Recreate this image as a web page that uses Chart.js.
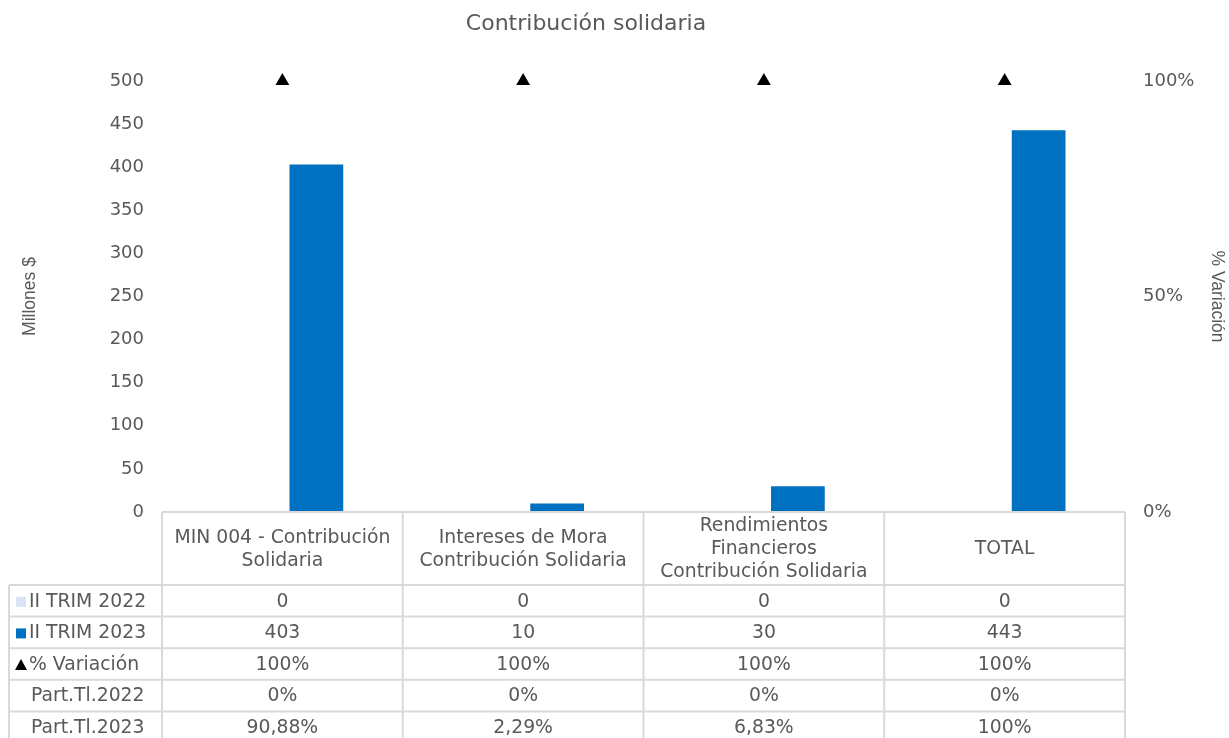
<!DOCTYPE html>
<html>
<head>
<meta charset="utf-8">
<script src="https://cdn.jsdelivr.net/npm/chart.js@4.4.1/dist/chart.umd.min.js"></script>
<style>
  html, body { margin: 0; padding: 0; background: #ffffff; }
  #wrap { width: 1229px; height: 738px; position: relative; }
</style>
</head>
<body>
<div id="wrap"><canvas id="chart"></canvas></div>
<script>
// Categories (multi-line header text for the data table)
const categories = [
  ['MIN 004 - Contribución', 'Solidaria'],
  ['Intereses de Mora', 'Contribución Solidaria'],
  ['Rendimientos', 'Financieros', 'Contribución Solidaria'],
  ['TOTAL']
];
// Millions of pesos
const trim2022 = [0, 0, 0, 0];
const trim2023 = [403, 10, 30, 443];
// Variation between quarters (fraction)
const variacion = [1, 1, 1, 1];
// Share of the total (percent)
const partTl2022 = [0, 0, 0, 0];
const partTl2023 = [90.88, 2.29, 6.83, 100];

const leftTicks = [0, 50, 100, 150, 200, 250, 300, 350, 400, 450, 500];
const rightTicks = [0, 0.5, 1];

const TITLE = 'Contribución solidaria';
const FONT = '"DejaVu Sans", Verdana, sans-serif';
const AXFONT = '"Liberation Sans", Arial, sans-serif';
const GREY = '#595959';
const LINE = '#d9d9d9';
const C2022 = '#dae3f3';
const C2023 = '#0070c0';

function fmtPct(v) {
  const s = Number.isInteger(v) ? String(v) : v.toFixed(2).replace('.', ',');
  return s + '%';
}

// Chart title, placed over the left part of the canvas
const titlePlugin = {
  id: 'sheetTitle',
  afterDraw(chart) {
    const ctx = chart.ctx;
    ctx.save();
    ctx.fillStyle = GREY;
    ctx.font = '22px ' + FONT;
    ctx.textAlign = 'center';
    ctx.textBaseline = 'middle';
    ctx.fillText(TITLE, 586, 24);
    ctx.restore();
  }
};

// Data table under the plot: category headers, legend keys and values
const tablePlugin = {
  id: 'dataTable',
  afterDraw(chart) {
    const ctx = chart.ctx;
    const area = chart.chartArea;
    const x = chart.scales.x;
    const n = categories.length;
    const step = (area.right - area.left) / n;
    const headTop = area.bottom;
    const headBottom = 585;
    const rowH = 31.6;
    const legendLeft = 9;
    const rows = [
      { label: 'II TRIM 2022', marker: 'square', color: C2022, vals: trim2022.map(String) },
      { label: 'II TRIM 2023', marker: 'square', color: C2023, vals: trim2023.map(String) },
      { label: '% Variación', marker: 'triangle', color: '#000', vals: variacion.map(v => Math.round(v * 100) + '%') },
      { label: 'Part.Tl.2022', marker: null, vals: partTl2022.map(fmtPct) },
      { label: 'Part.Tl.2023', marker: null, vals: partTl2023.map(fmtPct) }
    ];
    const bottom = headBottom + rowH * rows.length;

    ctx.save();
    ctx.strokeStyle = LINE;
    ctx.lineWidth = 2;
    ctx.beginPath();
    ctx.moveTo(area.left, headTop); ctx.lineTo(area.right, headTop);
    for (let r = 0; r < rows.length; r++) {
      const y = headBottom + rowH * r;
      ctx.moveTo(legendLeft, y); ctx.lineTo(area.right, y);
    }
    for (let i = 0; i <= n; i++) {
      const vx = area.left + step * i;
      ctx.moveTo(vx, headTop); ctx.lineTo(vx, bottom + 10);
    }
    ctx.moveTo(legendLeft, headBottom); ctx.lineTo(legendLeft, bottom + 10);
    ctx.stroke();

    ctx.fillStyle = GREY;
    ctx.font = '18.8px ' + FONT;
    ctx.textAlign = 'center';
    ctx.textBaseline = 'middle';
    const lh = 23;
    for (let i = 0; i < n; i++) {
      const cx = x.getPixelForValue(i);
      const lines = categories[i];
      const cy = (headTop + headBottom) / 2 + 1;
      const y0 = cy - (lines.length - 1) * lh / 2;
      lines.forEach((t, k) => ctx.fillText(t, cx, y0 + k * lh));
    }
    rows.forEach((row, r) => {
      const cy = headBottom + rowH * r + rowH / 2 + 1;
      ctx.textAlign = 'center';
      ctx.fillStyle = GREY;
      row.vals.forEach((v, i) => ctx.fillText(v, x.getPixelForValue(i), cy));
      ctx.textAlign = 'left';
      ctx.fillText(row.label, row.marker ? 29 : 31, cy);
      if (row.marker === 'square') {
        ctx.fillStyle = row.color;
        ctx.fillRect(16, cy - 5, 10, 10);
      } else if (row.marker === 'triangle') {
        ctx.fillStyle = row.color;
        ctx.beginPath();
        ctx.moveTo(21, cy - 6);
        ctx.lineTo(27, cy + 5);
        ctx.lineTo(15, cy + 5);
        ctx.closePath();
        ctx.fill();
      }
    });
    ctx.restore();
  }
};

new Chart(document.getElementById('chart'), {
  data: {
    labels: categories.map(c => c.join(' ')),
    datasets: [
      {
        type: 'line',
        label: '% Variación',
        data: variacion,
        yAxisID: 'y1',
        showLine: false,
        clip: false,
        pointStyle: 'triangle',
        pointRadius: 8,
        pointHoverRadius: 8,
        backgroundColor: '#000000',
        borderColor: '#000000',
        borderWidth: 0,
        order: 0
      },
      {
        type: 'bar',
        label: 'II TRIM 2022',
        data: trim2022,
        yAxisID: 'y',
        backgroundColor: C2022,
        categoryPercentage: 0.565,
        barPercentage: 0.79,
        order: 1
      },
      {
        type: 'bar',
        label: 'II TRIM 2023',
        data: trim2023,
        yAxisID: 'y',
        backgroundColor: C2023,
        categoryPercentage: 0.565,
        barPercentage: 0.79,
        order: 1
      }
    ]
  },
  options: {
    responsive: true,
    maintainAspectRatio: false,
    animation: false,
    layout: { padding: { top: 81, bottom: 226, left: 0, right: 0 } },
    plugins: {
      legend: { display: false },
      tooltip: { enabled: false },
      title: { display: false }
    },
    scales: {
      x: {
        type: 'category',
        display: false
      },
      y: {
        position: 'left',
        min: 0,
        max: 500,
        afterBuildTicks(scale) { scale.ticks = leftTicks.map(v => ({ value: v })); },
        afterFit(scale) { scale.width = 162; },
        ticks: { color: GREY, font: { family: FONT, size: 18 }, padding: 18 },
        grid: { display: false, drawTicks: false },
        border: { display: false },
        title: {
          display: true,
          text: 'Millones $',
          color: GREY,
          font: { family: AXFONT, size: 17.5 },
          padding: { top: 20, bottom: 0 }
        }
      },
      y1: {
        position: 'right',
        min: 0,
        max: 1,
        afterBuildTicks(scale) { scale.ticks = rightTicks.map(v => ({ value: v })); },
        afterFit(scale) { scale.width = 104; },
        ticks: {
          color: GREY,
          font: { family: FONT, size: 18 },
          padding: 18,
          callback: v => Math.round(v * 100) + '%'
        },
        grid: { display: false, drawTicks: false },
        border: { display: false },
        title: {
          display: true,
          text: '% Variación',
          color: GREY,
          font: { family: AXFONT, size: 17.5 },
          padding: { top: 2, bottom: 0 }
        }
      }
    }
  },
  plugins: [titlePlugin, tablePlugin]
});
</script>
</body>
</html>
